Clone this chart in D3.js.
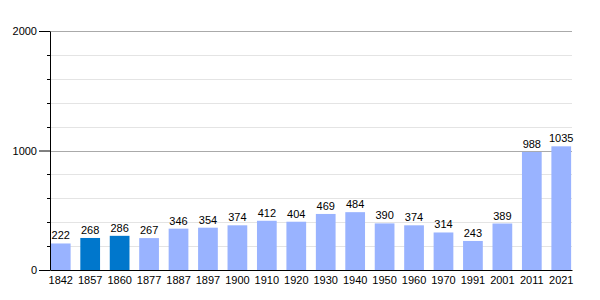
<!DOCTYPE html>
<html lang="en">
<head>
<meta charset="utf-8">
<script src="https://d3js.org/d3.v7.min.js"></script>
<style>
body { margin: 0; background: #fff; }
text { font-family: "Liberation Sans", Arial, sans-serif; font-size: 11px; fill: #000; }
</style>
</head>
<body>
<div id="chart"></div>
<script>
// census years and population
var years = ["1842","1857","1860","1877","1887","1897","1900","1910","1920","1930","1940","1950","1960","1970","1991","2001","2011","2021"];
var pop = [222,268,286,267,346,354,374,412,404,469,484,390,374,314,243,389,988,1035];
// years drawn in the darker colour
var highlight = ["1857","1860"];
var majorTicks = [0,1000,2000];
var minorTicks = [200,400,600,800,1200,1400,1600,1800];

var margin = {top: 31, right: 28, bottom: 30, left: 50},
    width = 600 - margin.left - margin.right,
    height = 300 - margin.top - margin.bottom;

var svg = d3.select("#chart").append("svg")
    .attr("width", 600).attr("height", 300)
  .append("g")
    .attr("transform", "translate(" + margin.left + "," + margin.top + ")");

var x = d3.scaleBand().domain(years).range([0, width]).paddingInner(0.33).paddingOuter(0.03);
var y = d3.scaleLinear().domain([0, 2000]).range([height, 0]);

// gridlines
svg.selectAll(".minor").data(minorTicks).enter().append("line")
    .attr("x1", 0).attr("x2", width)
    .attr("y1", function(d){ return Math.round(y(d)) + 0.5; })
    .attr("y2", function(d){ return Math.round(y(d)) + 0.5; })
    .attr("stroke", "#e4e4e4");
svg.selectAll(".major").data(majorTicks.slice(1)).enter().append("line")
    .attr("x1", 0).attr("x2", width)
    .attr("y1", function(d){ return Math.round(y(d)) + 0.5; })
    .attr("y2", function(d){ return Math.round(y(d)) + 0.5; })
    .attr("stroke", "#aaaaaa");

// bars
svg.selectAll("rect").data(pop).enter().append("rect")
    .attr("x", function(d, i){ return x(years[i]); })
    .attr("y", function(d){ return y(d); })
    .attr("width", x.bandwidth())
    .attr("height", function(d){ return height - y(d); })
    .attr("fill", function(d, i){ return highlight.indexOf(years[i]) >= 0 ? "#0077cc" : "#99b3ff"; });

// value labels
svg.selectAll(".val").data(pop).enter().append("text")
    .attr("x", function(d, i){ return x(years[i]) + x.bandwidth() / 2; })
    .attr("y", function(d){ return y(d) - 4; })
    .attr("text-anchor", "middle")
    .text(function(d){ return d; });

// x axis
var xAxis = svg.append("g")
    .attr("transform", "translate(0," + height + ")")
    .call(d3.axisBottom(x).tickSize(0).tickPadding(6));
xAxis.select(".domain").attr("stroke", "#000");
xAxis.selectAll("text").style("font-size", "11px").attr("font-family", null);

// y axis
var yAxis = svg.append("g")
    .call(d3.axisLeft(y).tickValues(majorTicks).tickSize(11).tickSizeOuter(0).tickPadding(2).tickFormat(d3.format("d")));
yAxis.select(".domain").attr("stroke", "#000");
yAxis.selectAll("text").style("font-size", "11px").attr("font-family", null);
yAxis.selectAll(".tick line").attr("stroke", "#000");
svg.selectAll(".mtick").data(minorTicks).enter().append("line")
    .attr("x1", -3).attr("x2", 0)
    .attr("y1", function(d){ return Math.round(y(d)) + 0.5; })
    .attr("y2", function(d){ return Math.round(y(d)) + 0.5; })
    .attr("stroke", "#000");
</script>
</body>
</html>
